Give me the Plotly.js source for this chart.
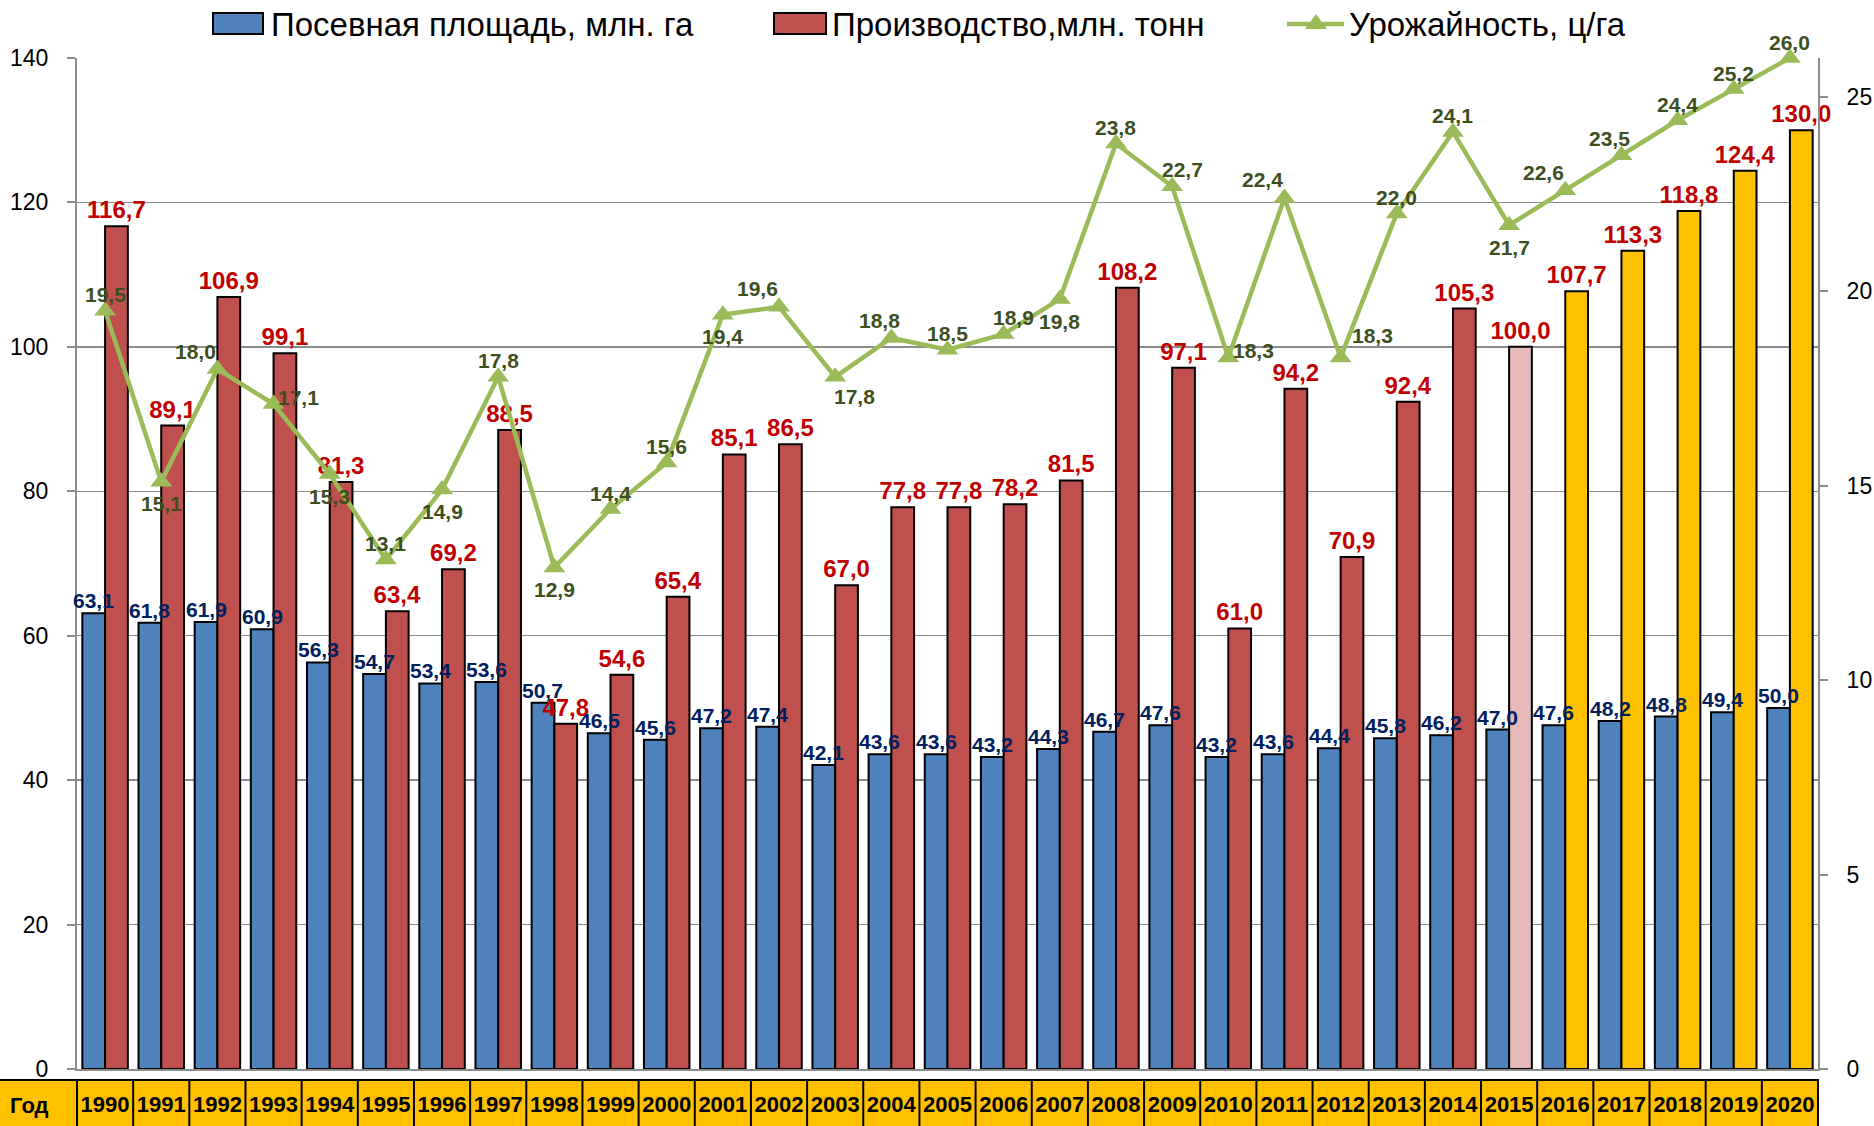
<!DOCTYPE html>
<html><head><meta charset="utf-8">
<script src="https://cdn.plot.ly/plotly-3.0.1.min.js"></script>
<style>html,body{margin:0;padding:0;background:#fff}#chart{width:1874px;height:1126px}</style>
</head><body><div id="chart"></div>
<script>
const years = [1990,1991,1992,1993,1994,1995,1996,1997,1998,1999,2000,2001,2002,2003,2004,2005,2006,2007,2008,2009,2010,2011,2012,2013,2014,2015,2016,2017,2018,2019,2020];
const sownArea = [63.1,61.8,61.9,60.9,56.3,54.7,53.4,53.6,50.7,46.5,45.6,47.2,47.4,42.1,43.6,43.6,43.2,44.3,46.7,47.6,43.2,43.6,44.4,45.8,46.2,47.0,47.6,48.2,48.8,49.4,50.0];
const production = [116.7,89.1,106.9,99.1,81.3,63.4,69.2,88.5,47.8,54.6,65.4,85.1,86.5,67.0,77.8,77.8,78.2,81.5,108.2,97.1,61.0,94.2,70.9,92.4,105.3,100.0,107.7,113.3,118.8,124.4,130.0];
const yieldValues = [19.5,15.1,18.0,17.1,15.3,13.1,14.9,17.8,12.9,14.4,15.6,19.4,19.6,17.8,18.8,18.5,18.9,19.8,23.8,22.7,18.3,22.4,18.3,22.0,24.1,21.7,22.6,23.5,24.4,25.2,26.0];
const seriesNames = ['Посевная площадь, млн. га','Производство,млн. тонн','Урожайность, ц/га'];
const rowHeader = 'Год';

// label placement codes for the yield labels (style only)
const yieldLabelPos = ['t','b','tl','r','b','t','b','t','b','t','t','b','tl','br','tls','t','tr','b','t','tr','r','tl','rt','t','t','b','tl','tls','t','t','t'];
const LABEL_OFF = {t:[0,-16], b:[0,22], tl:[-22,-18], tls:[-12,-17], tr:[10,-17], r:[25,-7], rt:[32,-22], br:[19,20]};

const W = 1874, H = 1126, M = {l:77, r:56, t:58, b:57};
const PW = W - M.l - M.r, PH = H - M.t - M.b;
const px = x => (x - M.l) / PW;
const py = y => (H - M.b - y) / PH;
const BARGAP = 0.19;
const halfBar = (PW / years.length) * (1 - BARGAP) / 4;

const FONT = '"Liberation Sans", Arial, sans-serif';
const GRID = '#8C8C8C';
const cats = years.map(String);
const prodColors = years.map(y => y === 2015 ? '#E6B9B8' : (y > 2015 ? '#FFC000' : '#C0504D'));
const fmt = v => v.toFixed(1).replace('.', ',');

const traces = [
  {type:'bar', name:seriesNames[0], x:cats, y:sownArea, showlegend:false,
   marker:{color:'#4F81BD', line:{color:'#000', width:2}}, hoverinfo:'skip'},
  {type:'bar', name:seriesNames[1], x:cats, y:production, showlegend:false,
   marker:{color:prodColors, line:{color:'#000', width:2}},
   texttemplate:'%{y:.1f}', textposition:'outside', textangle:0, constraintext:'none', cliponaxis:false,
   textfont:{family:FONT, size:24, color:'#C00000', weight:700}, hoverinfo:'skip'},
  {type:'scatter', mode:'lines+markers', name:seriesNames[2], x:cats, y:yieldValues, yaxis:'y2', showlegend:false,
   line:{color:'#9BBB59', width:4.5}, marker:{symbol:'triangle-up', size:19, color:'#9BBB59'}, cliponaxis:false, hoverinfo:'skip'}
];

const annotations = [];
const shapes = [];

// sown-area value labels (above the blue bars)
sownArea.forEach((v, i) => {
  annotations.push({x:i, y:v, xref:'x', yref:'y', text:fmt(v), showarrow:false,
    xanchor:'center', yanchor:'bottom', xshift:-halfBar, yshift:-1,
    font:{family:FONT, size:21, color:'#002060', weight:700}});
});

// yield value labels
yieldValues.forEach((v, i) => {
  const o = LABEL_OFF[yieldLabelPos[i]];
  annotations.push({x:i, y:v, xref:'x', yref:'y2', text:fmt(v), showarrow:false,
    xanchor:'center', yanchor:'middle', xshift:o[0], yshift:-o[1],
    font:{family:FONT, size:21, color:'#3D4F1F', weight:700}});
});

// bottom table row
shapes.push({type:'rect', xref:'paper', yref:'paper', x0:px(-6), x1:1, y0:py(1140), y1:py(1080),
  fillcolor:'#FFC000', line:{color:'#000', width:2}, layer:'below'});
for (let i = 0; i < years.length; i++) {
  shapes.push({type:'line', xref:'paper', yref:'paper', x0:i/years.length, x1:i/years.length, y0:py(1140), y1:py(1080),
    line:{color:'#000', width:2}, layer:'below'});
}
annotations.push({xref:'paper', yref:'paper', x:px(8), y:py(1105), xanchor:'left', yanchor:'middle', text:rowHeader,
  showarrow:false, font:{family:FONT, size:22, color:'#000', weight:700}});

// legend
const legY = 24;
shapes.push({type:'rect', xref:'paper', yref:'paper', x0:px(213), x1:px(263), y0:py(34), y1:py(13), fillcolor:'#4F81BD', line:{color:'#000', width:2}});
shapes.push({type:'rect', xref:'paper', yref:'paper', x0:px(774), x1:px(826), y0:py(34), y1:py(13), fillcolor:'#C0504D', line:{color:'#000', width:2}});
shapes.push({type:'line', xref:'paper', yref:'paper', x0:px(1287), x1:px(1344), y0:py(legY), y1:py(legY), line:{color:'#9BBB59', width:4.5}});
shapes.push({type:'path', xref:'paper', yref:'paper', fillcolor:'#9BBB59', line:{width:0},
  path:`M ${px(1316)} ${py(legY-10)} L ${px(1327)} ${py(legY+5)} L ${px(1305)} ${py(legY+5)} Z`});
[[269, seriesNames[0]], [830, seriesNames[1]], [1347, seriesNames[2]]].forEach(([x, t]) => {
  annotations.push({xref:'paper', yref:'paper', x:px(x), y:py(legY), xanchor:'left', yanchor:'middle', text:t,
    showarrow:false, font:{family:FONT, size:33, color:'#000'}});
});

const layout = {
  width:W, height:H, margin:M, paper_bgcolor:'#fff', plot_bgcolor:'#fff',
  separators:', ', barmode:'group', bargap:BARGAP, bargroupgap:0, showlegend:false,
  font:{family:FONT, color:'#000'},
  xaxis:{type:'category', range:[-0.5, years.length - 0.5], showline:true, linecolor:GRID, linewidth:2, ticks:'', showgrid:false, zeroline:false,
    tickfont:{family:FONT, size:22, color:'#000', weight:700}, ticklabelstandoff:15, automargin:false},
  yaxis:{range:[0,140], dtick:20, showline:true, linecolor:GRID, linewidth:2, ticks:'outside', ticklen:8, tickwidth:2,
    tickcolor:GRID, gridcolor:GRID, gridwidth:1.5, zeroline:false, tickfont:{family:FONT, size:23, color:'#000'},
    ticklabelstandoff:14, automargin:false},
  yaxis2:{overlaying:'y', side:'right', range:[0,26], tickvals:[0,5,10,15,20,25], showgrid:false, showline:true,
    linecolor:GRID, linewidth:2, ticks:'outside', ticklen:8, tickwidth:2, tickcolor:GRID, zeroline:false,
    tickfont:{family:FONT, size:23, color:'#000'}, ticklabelstandoff:14, automargin:false},
  shapes, annotations
};

Plotly.newPlot('chart', traces, layout, {displayModeBar:false, staticPlot:true});
</script></body></html>
